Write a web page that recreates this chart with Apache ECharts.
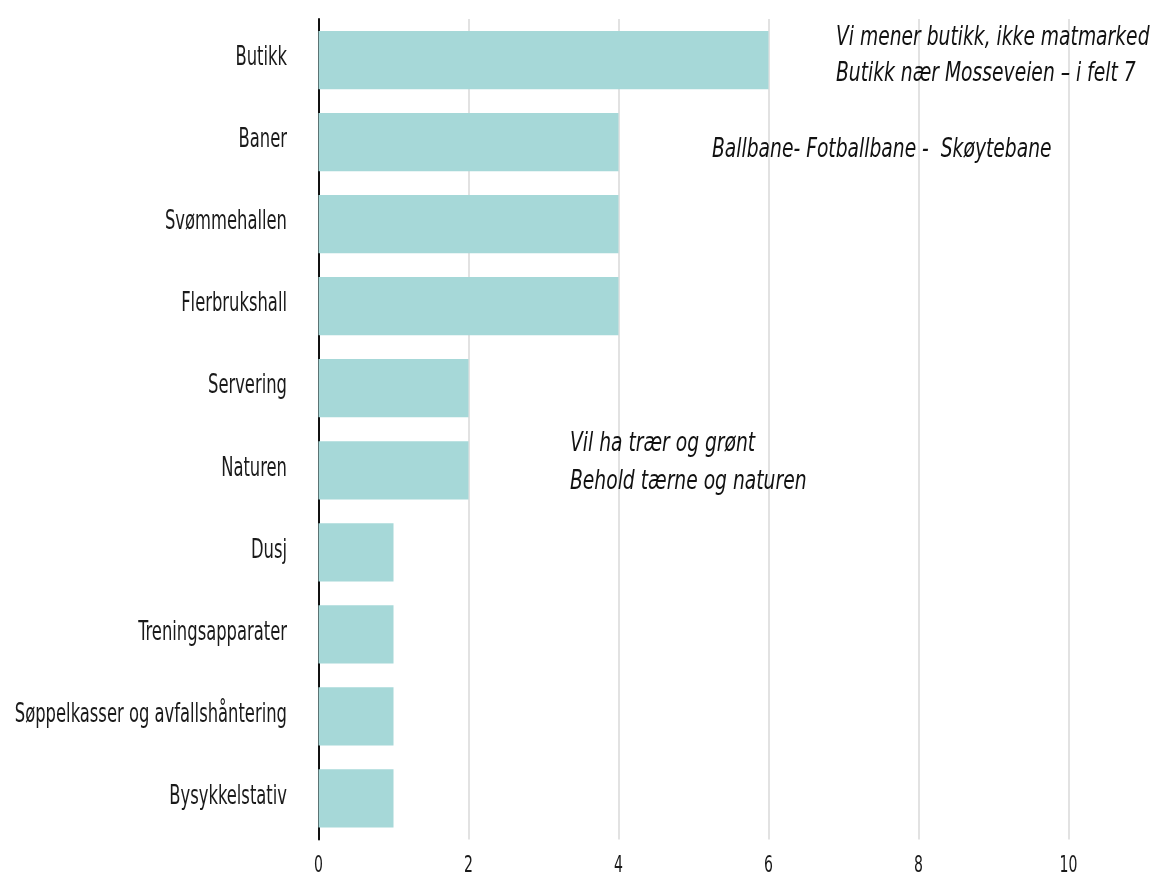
<!DOCTYPE html>
<html>
<head>
<meta charset="utf-8">
<script src="https://cdn.jsdelivr.net/npm/echarts@6/dist/echarts.min.js"></script>
<style>html,body{margin:0;padding:0;background:#fff}#c{width:1160px;height:875px}</style>
</head>
<body>
<div id="c"></div>
<script>
const categories = ["Butikk","Baner","Svømmehallen","Flerbrukshall","Servering","Naturen","Dusj","Treningsapparater","Søppelkasser og avfallshåntering","Bysykkelstativ"];
const values = [6,4,4,4,2,2,1,1,1,1];
const tickValues = [0,2,4,6,8,10];
const notes = [
  ["Vi mener butikk, ikke matmarked", 836, 38],
  ["Butikk nær Mosseveien – i felt 7", 836, 74.5],
  ["Ballbane- Fotballbane -  Skøytebane", 712, 150],
  ["Vil ha trær og grønt", 570, 444.5],
  ["Behold tærne og naturen", 570, 482]
];
const FONT = "'DejaVu Sans Condensed','Liberation Sans Narrow',sans-serif";
const chart = echarts.init(document.getElementById('c'));
chart.setOption({
  animation: false,
  grid: {left: 318.5, right: 0, top: 19, bottom: 35.5, containLabel: false},
  xAxis: {
    type: 'value', min: 0, max: 11.22, interval: 2,
    axisLine: {show: false}, axisTick: {show: false},
    axisLabel: {show: false},
    splitLine: {show: true, showMaxLine: false, lineStyle: {color: '#d9d9d9', width: 1.5}}
  },
  yAxis: {
    type: 'category', data: categories, inverse: true,
    axisLine: {show: true, lineStyle: {color: '#111', width: 2}},
    axisTick: {show: false},
    axisLabel: {show: false}
  },
  series: [{
    type: 'bar', data: values, barCategoryGap: '29%',
    itemStyle: {color: '#a6d8d8'}
  }]
});
const g = [];
categories.forEach((c, i) => {
  const y = chart.convertToPixel({yAxisIndex: 0}, i);
  g.push({type: 'text', x: 287, y: y - 1.5, scaleX: 0.7,
    style: {text: c, font: '26px ' + FONT, fill: '#1a1a1a', align: 'right', verticalAlign: 'middle'}});
});
tickValues.forEach(v => {
  const x = chart.convertToPixel({xAxisIndex: 0}, v);
  g.push({type: 'text', x: x, y: 866, scaleX: 0.68,
    style: {text: String(v), font: '23px ' + FONT, fill: '#1a1a1a', align: 'center', verticalAlign: 'middle'}});
});
notes.forEach(n => {
  g.push({type: 'text', x: n[1], y: n[2], scaleX: 0.8,
    style: {text: n[0], font: 'italic 26px ' + FONT, fill: '#111', align: 'left', verticalAlign: 'middle'}});
});
chart.setOption({graphic: g});
</script>
</body>
</html>
